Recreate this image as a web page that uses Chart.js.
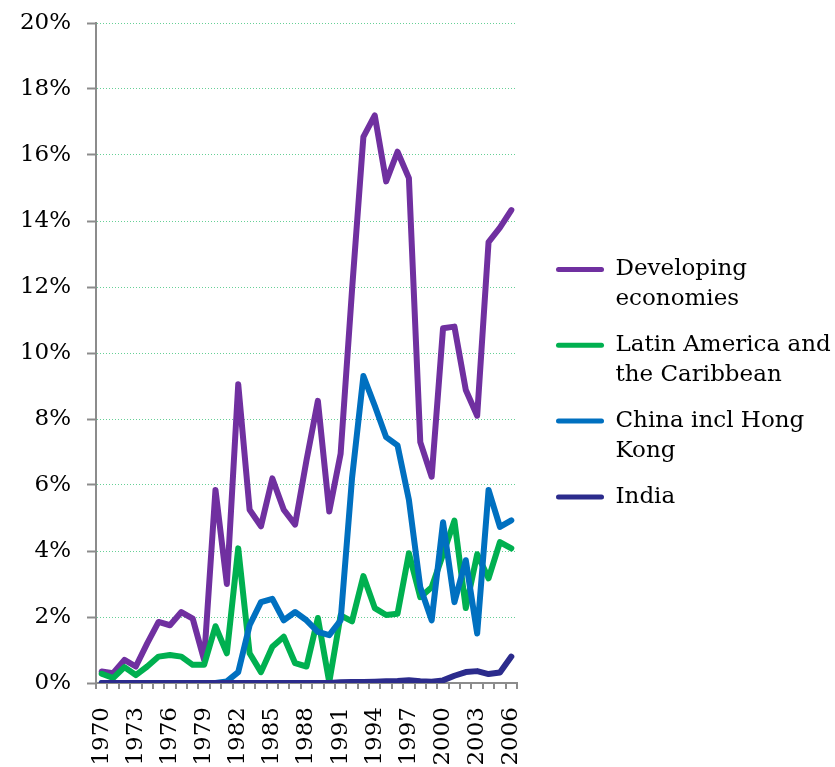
<!DOCTYPE html>
<html>
<head>
<meta charset="utf-8">
<script src="https://cdn.jsdelivr.net/npm/chart.js@4/dist/chart.umd.min.js"></script>
<style>
html,body{margin:0;padding:0;background:#fff;overflow:hidden;}
#wrap{width:835px;height:767px;}
</style>
</head>
<body>
<div id="wrap"><canvas id="c" width="835" height="767"></canvas></div>
<script>
const years = [];
for (let y = 1970; y <= 2006; y++) years.push(String(y));

const seriesNames = [["Developing", "economies"], ["Latin America and", "the Caribbean"], ["China incl Hong", "Kong"], "India"];

const developing = [0.35,0.3,0.7,0.5,1.2,1.85,1.75,2.15,1.95,0.7,5.85,3.0,9.05,5.25,4.75,6.2,5.25,4.8,6.75,8.55,5.2,6.95,11.9,16.55,17.2,15.2,16.1,15.3,7.3,6.25,10.75,10.8,8.88,8.1,13.36,13.8,14.33];
const latinAmerica = [0.28,0.15,0.48,0.24,0.5,0.8,0.85,0.8,0.55,0.55,1.72,0.9,4.08,0.9,0.33,1.1,1.4,0.6,0.5,1.97,0.02,2.05,1.87,3.24,2.27,2.06,2.1,3.93,2.6,2.9,3.9,4.92,2.27,3.9,3.17,4.27,4.08];
const china = [0,0,0,0,0,0,0,0,0,0,0,0.05,0.33,1.75,2.45,2.55,1.9,2.15,1.9,1.55,1.45,1.9,6.2,9.3,8.4,7.45,7.2,5.55,2.9,1.9,4.87,2.45,3.72,1.5,5.85,4.73,4.93];
const india = [0,0,0,0,0,0,0,0,0,0,0,0,0,0,0,0,0,0,0,0,0,0.02,0.03,0.03,0.04,0.05,0.06,0.08,0.05,0.04,0.08,0.22,0.33,0.36,0.27,0.32,0.8];

const yTicks = { min: 0, max: 20, step: 2 };
const colors = ["#7030A0", "#00B050", "#0070C0", "#2B2B8C"];

const FONT = "'DejaVu Serif', serif";

const ds = (label, data, color, order) => ({
  label, data, borderColor: color, backgroundColor: color,
  borderWidth: 6, pointRadius: 0, pointHoverRadius: 0, tension: 0,
  borderCapStyle: 'round', borderJoinStyle: 'round', fill: false, order,
  yAxisID: 'y'
});

new Chart(document.getElementById('c'), {
  type: 'line',
  data: {
    labels: years,
    datasets: [
      ds(seriesNames[0], developing, colors[0], 3),
      ds(seriesNames[1], latinAmerica, colors[1], 2),
      ds(seriesNames[2], china, colors[2], 1),
      ds(seriesNames[3], india, colors[3], 0)
    ]
  },
  options: {
    responsive: false,
    animation: false,
    devicePixelRatio: 1,
    layout: { padding: { top: 23, right: 0, bottom: 0, left: 0 } },
    plugins: {
      tooltip: { enabled: false },
      legend: {
        position: 'right',
        align: 'start',
        maxWidth: 295,
        title: { display: true, text: '', font: { family: FONT, size: 10, lineHeight: 1 }, padding: { top: 0, bottom: 209 } },
        labels: {
          color: '#000',
          font: { family: FONT, size: 23, lineHeight: 1.3 },
          boxWidth: 48,
          boxHeight: 5,
          padding: 16,
          sort: (a, b) => a.datasetIndex - b.datasetIndex,
          generateLabels: (chart) => Chart.defaults.plugins.legend.labels.generateLabels(chart).map(l => ({
            ...l, lineWidth: 0, fillStyle: l.strokeStyle, borderRadius: 2.5
          }))
        }
      }
    },
    scales: {
      x: {
        type: 'category',
        offset: true,
        afterFit: (s) => { s.height = 84; },
        grid: {
          offset: true,
          drawOnChartArea: false,
          drawTicks: true,
          tickLength: 6,
          tickColor: '#8c8c8c',
          lineWidth: 2
        },
        border: { display: true, color: '#8c8c8c', width: 2 },
        ticks: {
          autoSkip: false,
          maxRotation: 90,
          minRotation: 90,
          padding: 18,
          color: '#000',
          font: { family: FONT, size: 23 },
          callback: function (v, i) { return i % 3 === 0 ? years[i] : ''; }
        }
      },
      y: {
        min: yTicks.min,
        max: yTicks.max,
        afterFit: (s) => { s.width = 96; },
        grid: {
          color: 'rgba(0,176,80,0.6)',
          lineWidth: 1,
          drawTicks: true,
          tickLength: 9,
          tickColor: '#8c8c8c',
          tickWidth: 2
        },
        border: { display: true, color: '#8c8c8c', width: 2, dash: [1, 2] },
        ticks: {
          stepSize: yTicks.step,
          padding: 16,
          color: '#000',
          font: { family: FONT, size: 23, lineHeight: 0.5 },
          callback: (v) => v + '%'
        }
      },
      spacer: {
        type: 'linear',
        position: 'right',
        display: true,
        min: 0, max: 1,
        afterFit: (s) => { s.width = 23; },
        grid: { display: false, drawOnChartArea: false },
        border: { display: false },
        ticks: { display: false }
      }
    }
  }
});
</script>
</body>
</html>
